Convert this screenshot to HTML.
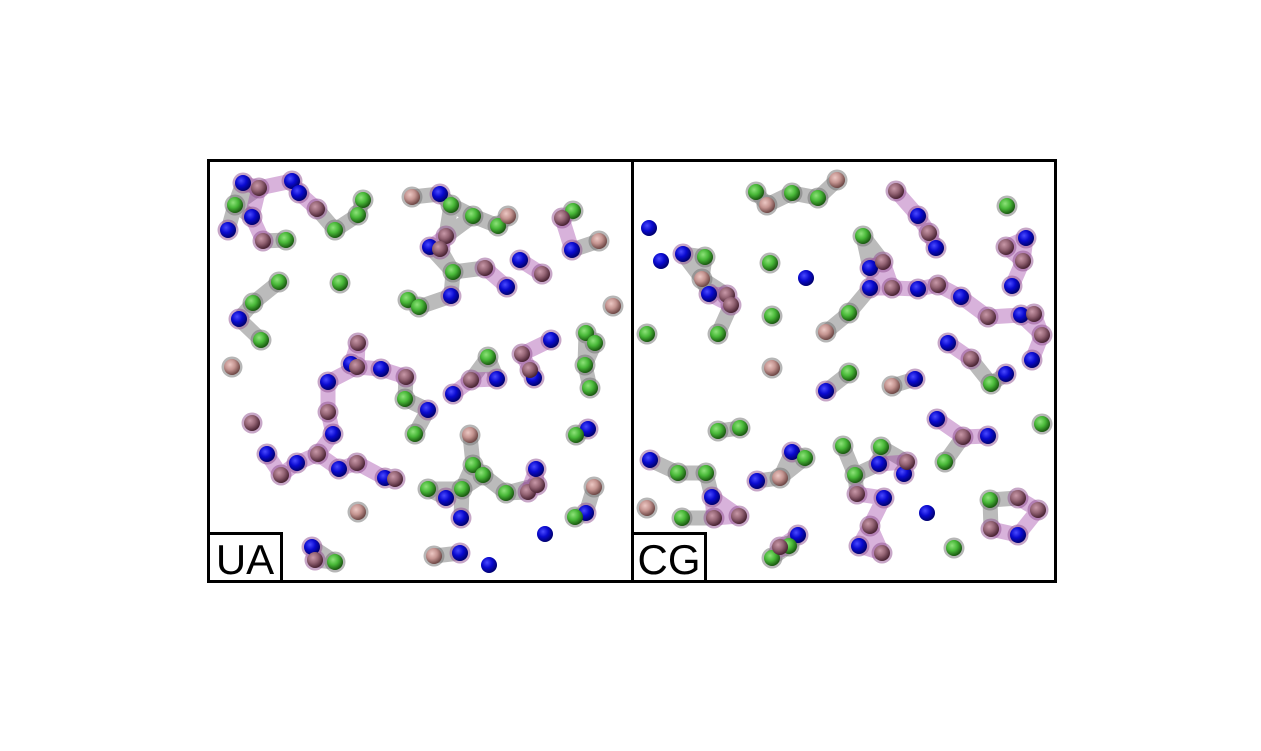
<!DOCTYPE html>
<html><head><meta charset="utf-8"><style>
html,body{margin:0;padding:0;background:#fff;}
svg{display:block;}
</style></head><body>
<svg id="fig" width="1261" height="751" viewBox="0 0 1261 751" xmlns="http://www.w3.org/2000/svg">
<defs>
<radialGradient id="gb" cx="38%" cy="35%" r="65%"><stop offset="0" stop-color="#4a4aff"/><stop offset="0.5" stop-color="#0a0ad0"/><stop offset="1" stop-color="#000070"/></radialGradient>
<radialGradient id="gg" cx="38%" cy="35%" r="65%"><stop offset="0" stop-color="#8ee27a"/><stop offset="0.5" stop-color="#48b838"/><stop offset="1" stop-color="#1a5a10"/></radialGradient>
<radialGradient id="gm" cx="38%" cy="35%" r="65%"><stop offset="0" stop-color="#c898a8"/><stop offset="0.5" stop-color="#946474"/><stop offset="1" stop-color="#4a2434"/></radialGradient>
<radialGradient id="gp" cx="38%" cy="35%" r="65%"><stop offset="0" stop-color="#ecc8c4"/><stop offset="0.5" stop-color="#c49490"/><stop offset="1" stop-color="#6e4846"/></radialGradient>
</defs>
<g id="bonds-gray" opacity="0.42"></g>
<g id="bonds-purple" opacity="0.4"></g>
<g id="halos" opacity="0.5"></g>
<g id="atoms"></g>
<rect x="208.5" y="160.5" width="424" height="421" fill="none" stroke="#000" stroke-width="3"/>
<rect x="632.5" y="160.5" width="423" height="421" fill="none" stroke="#000" stroke-width="3"/>
<rect x="208.5" y="533.5" width="73" height="48" fill="#fff" stroke="#000" stroke-width="3"/>
<text x="245" y="574" font-family="Liberation Sans, sans-serif" font-size="42" text-anchor="middle">UA</text>
<rect x="632.5" y="533.5" width="73" height="48" fill="#fff" stroke="#000" stroke-width="3"/>
<text x="669" y="574" font-family="Liberation Sans, sans-serif" font-size="42" text-anchor="middle">CG</text>
</svg>
<script>
// atom data: [x, y] positions, per panel and type
const uaBlue=[[243,183],[292,181],[299,193],[252,217],[228,230],[440,194],[430,247],[451,296],[239,319],[520,260],[507,287],[572,250],[551,340],[534,378],[497,379],[453,394],[381,369],[351,364],[328,382],[428,410],[333,434],[267,454],[297,463],[339,469],[536,469],[588,429],[446,498],[461,518],[586,513],[545,534],[460,553],[489,565],[312,547],[385,478]];
const uaGreen=[[235,205],[363,200],[358,215],[335,230],[286,240],[451,205],[473,216],[498,226],[453,272],[573,211],[279,282],[253,303],[340,283],[408,300],[419,307],[261,340],[488,357],[586,333],[595,343],[585,365],[590,388],[405,399],[415,434],[576,435],[473,465],[483,475],[506,493],[462,489],[428,489],[575,517],[335,562]];
const uaMauve=[[259,188],[317,209],[263,241],[446,236],[485,268],[542,274],[562,218],[358,343],[357,367],[328,412],[252,423],[318,454],[357,463],[281,475],[395,479],[406,377],[471,380],[522,354],[530,370],[528,492],[537,485],[315,560],[440,249]];
const uaPink=[[412,197],[508,216],[599,241],[613,306],[232,367],[470,435],[594,487],[358,512],[434,556]];
const cgBlue=[[649,228],[661,261],[683,254],[709,294],[806,278],[826,391],[915,379],[918,216],[936,248],[870,268],[870,288],[918,289],[961,297],[1026,238],[1012,286],[1021,315],[948,343],[1032,360],[1006,374],[937,419],[988,436],[650,460],[792,452],[757,481],[879,464],[904,474],[884,498],[927,513],[712,497],[798,535],[859,546],[1018,535]];
const cgGreen=[[756,192],[792,193],[818,198],[770,263],[705,257],[863,236],[1007,206],[772,316],[718,334],[647,334],[849,313],[849,373],[991,384],[1042,424],[718,431],[740,428],[678,473],[706,473],[682,518],[805,458],[843,446],[881,447],[855,475],[945,462],[990,500],[954,548],[772,558],[789,546]];
const cgMauve=[[896,191],[929,233],[883,262],[892,288],[938,285],[1006,247],[1023,261],[988,317],[1034,314],[1042,335],[971,359],[963,437],[907,462],[857,494],[870,526],[882,553],[714,518],[739,516],[1018,498],[1038,510],[991,529],[727,295],[731,305],[780,547]];
const cgPink=[[837,180],[767,205],[702,279],[826,332],[772,368],[892,386],[780,478],[647,508]];

const NS='http://www.w3.org/2000/svg';
function collect(panel, sets){
  const out=[];
  sets.forEach(([arr,t])=>arr.forEach(p=>out.push({x:p[0],y:p[1],t:t,panel:panel})));
  return out;
}
const atomsAll=collect('ua',[[uaBlue,'b'],[uaGreen,'g'],[uaMauve,'m'],[uaPink,'p']]).concat(
  collect('cg',[[cgBlue,'b'],[cgGreen,'g'],[cgMauve,'m'],[cgPink,'p']]));
const gGray=document.getElementById('bonds-gray');
const gPur=document.getElementById('bonds-purple');
const gHalo=document.getElementById('halos');
const gAtoms=document.getElementById('atoms');
const connected=new Set();
for(let i=0;i<atomsAll.length;i++){
  for(let j=i+1;j<atomsAll.length;j++){
    const a=atomsAll[i],b=atomsAll[j];
    if(a.panel!==b.panel) continue;
    const d=Math.hypot(a.x-b.x,a.y-b.y);
    if(d>34) continue;
    if(a.t==='b'&&b.t==='b'&&d>16) continue;
    connected.add(i);connected.add(j);
    const purple=(a.t==='m'||a.t==='b')&&(b.t==='m'||b.t==='b');
    const l=document.createElementNS(NS,'line');
    
    
    l.setAttribute('x1',a.x);l.setAttribute('y1',a.y);l.setAttribute('x2',b.x);l.setAttribute('y2',b.y);
    l.setAttribute('stroke',purple?'#a040a8':'#606060');
    l.setAttribute('stroke-width','15');
    l.setAttribute('stroke-linecap','round');
    (purple?gPur:gGray).appendChild(l);
  }
}
const fills={b:'url(#gb)',g:'url(#gg)',m:'url(#gm)',p:'url(#gp)'};
const names={b:'blue-atom',g:'green-atom',m:'mauve-atom',p:'pink-atom'};
atomsAll.forEach((a,i)=>{
  if(a.t!=='b'||connected.has(i)){
    const h=document.createElementNS(NS,'circle');
    
    
    h.setAttribute('cx',a.x);h.setAttribute('cy',a.y);h.setAttribute('r',10.5);
    h.setAttribute('fill',(a.t==='m'||a.t==='b')?'#905090':'#707070');
    gHalo.appendChild(h);
  }
  const c=document.createElementNS(NS,'circle');
  
  
  c.setAttribute('cx',a.x);c.setAttribute('cy',a.y);c.setAttribute('r',8);
  c.setAttribute('fill',fills[a.t]);
  gAtoms.appendChild(c);
});
</script>
</body></html>
